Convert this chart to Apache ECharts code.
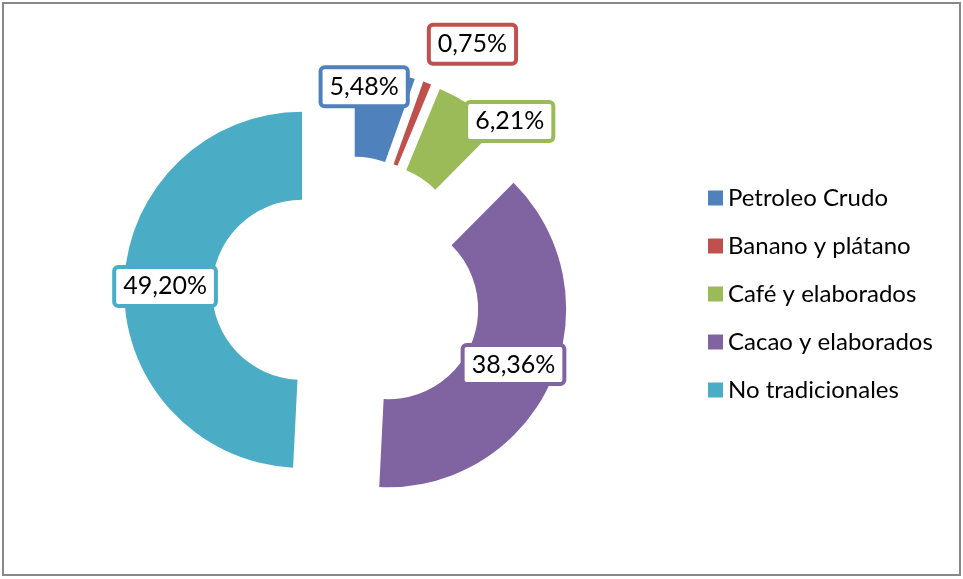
<!DOCTYPE html>
<html>
<head>
<meta charset="utf-8">
<script src="https://cdn.jsdelivr.net/npm/echarts@6/dist/echarts.min.js"></script>
<style>
  html, body { margin: 0; padding: 0; background: #fff; }
  #mychart { width: 963px; height: 579px; }
</style>
</head>
<body>
<div id="mychart"></div>
<script>
// categorias y valores (%)
const categories = ["Petroleo Crudo", "Banano y plátano", "Café y elaborados", "Cacao y elaborados", "No tradicionales"];
const values = [5.48, 0.75, 6.21, 38.36, 49.2];
const colors = ["#4F81BD", "#C0504D", "#9BBB59", "#8064A2", "#4BACC6"];

// desplazamiento de las etiquetas pequeñas
const labelShift = { 0: [-14, -25], 1: [60, -77], 2: [62, -18] };

const myChart = echarts.init(document.getElementById("mychart"));
const option = {
  animation: false,
  color: colors,
  textStyle: { fontFamily: "Lato" },
  graphic: [
    {
      type: "rect",
      shape: { x: 3, y: 3, width: 957, height: 572 },
      style: { fill: "none", stroke: "#888", lineWidth: 2 },
      silent: true
    }
  ],
  legend: {
    orient: "vertical",
    left: 703,
    top: 181,
    itemWidth: 15,
    itemHeight: 15,
    itemGap: 24,
    icon: "rect",
    textStyle: { fontSize: 24, color: "#000", fontFamily: "Lato" },
    selectedMode: false,
    data: categories
  },
  series: [
    {
      type: "pie",
      center: [347, 291],
      radius: [90, 178],
      startAngle: 90,
      selectedMode: "multiple",
      selectedOffset: 45,
      emphasis: { disabled: true },
      label: {
        show: true,
        position: "inside",
        formatter: p => p.value.toFixed(2).replace(".", ",") + "%",
        color: "#000",
        fontSize: 25,
        fontFamily: "Lato",
        backgroundColor: "#fff",
        borderWidth: 4,
        borderRadius: 2,
        padding: [6, 7, 4, 7]
      },
      labelLine: { show: false },
      labelLayout: params => {
        const s = labelShift[params.dataIndex];
        return s ? { dx: s[0], dy: s[1] } : {};
      },
      data: categories.map((name, i) => ({
        name: name,
        value: values[i],
        selected: true,
        label: { borderColor: colors[i] }
      }))
    }
  ]
};
myChart.setOption(option);
</script>
</body>
</html>
